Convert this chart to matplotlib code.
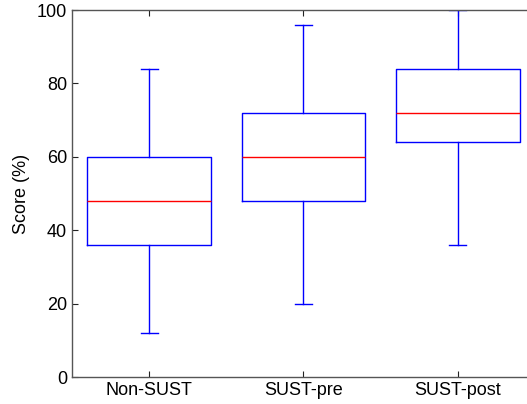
import matplotlib
matplotlib.use('Agg')
import matplotlib.pyplot as plt

plt.rcParams['font.family'] = ['Liberation Sans', 'DejaVu Sans']

# box statistics
groups = ['Non-SUST', 'SUST-pre', 'SUST-post']
whislo = [12, 20, 36]
q1 = [36, 48, 64]
med = [48, 60, 72]
q3 = [60, 72, 84]
whishi = [84, 96, 100]

stats = []
for i in range(len(groups)):
    stats.append({'label': groups[i], 'whislo': whislo[i], 'q1': q1[i],
                  'med': med[i], 'q3': q3[i], 'whishi': whishi[i], 'fliers': []})

fig = plt.figure(figsize=(5.27, 4.04), dpi=100)
ax = fig.add_axes([0.1366, 0.0668, 0.8786, 0.9084])

blue = dict(color='#0000ff', linewidth=1.0)
ax.bxp(stats, positions=[1, 2, 3], widths=0.8, capwidths=0.11,
       boxprops=blue, whiskerprops=blue, capprops=blue,
       medianprops=dict(color='#ff0000', linewidth=1.0),
       showfliers=False)

ax.set_xlim(0.5, 3.5)
ax.set_ylim(0, 100)
ax.set_yticks([0, 20, 40, 60, 80, 100])
ax.set_ylabel('Score (%)', fontsize=13, labelpad=5)
ax.tick_params(direction='in', labelsize=13, top=True, right=True,
               length=4, color='#222222')
for s in ax.spines.values():
    s.set_color('#555555')
    s.set_linewidth(1.0)

fig.savefig('out.png', dpi=100)
